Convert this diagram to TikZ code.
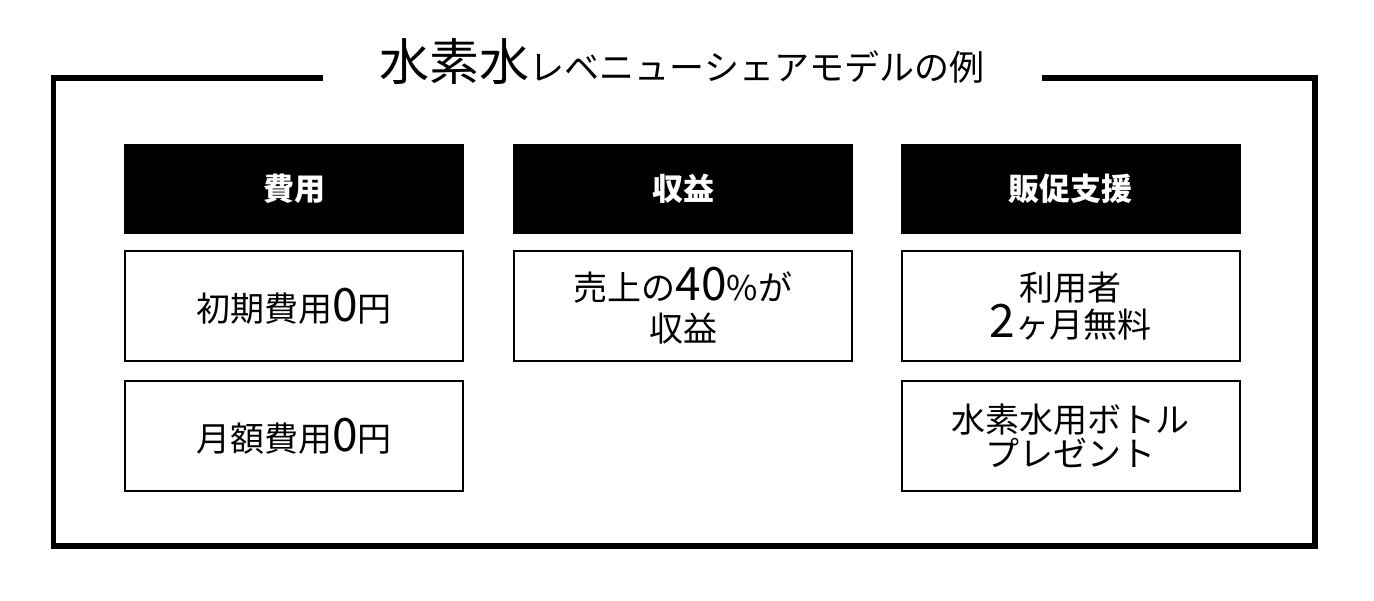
\documentclass[tikz,border=0pt]{standalone}
\usepackage{fontspec}
\setmainfont{Noto Sans CJK JP}
\newcommand\bigdig[1]{{\fontsize{46}{46}\selectfont #1}}
\begin{document}
\begin{tikzpicture}[x=1pt,y=-1pt,
  frame/.style={line width=5.5pt,line join=miter},
  head/.style={fill=black,text=white,minimum width=340pt,minimum height=90pt,inner sep=0pt,font=\fontsize{31}{36}\selectfont\bfseries},
  cell/.style={draw=black,line width=2pt,fill=white,minimum width=338pt,minimum height=110pt,inner sep=0pt,align=center,font=\fontsize{34}{34}\selectfont},
  titletext/.style={anchor=base,inner sep=0pt,font=\fontsize{35}{40}\selectfont}]
\useasboundingbox (0,0) rectangle (1374,600);
\fill[white] (0,0) rectangle (1374,600);
% outer frame with a gap for the title
\coordinate (fl) at (323,78);
\coordinate (fr) at (1042,78);
\draw[frame] (fl) -- (53.5,78) -- (53.5,546) -- (1315,546) -- (1315,78) -- (fr);
\node[titletext] (title) at (682,80) {{\fontsize{50}{52}\selectfont 水素水}レベニューシェアモデルの例};
% headers
\node[head] (h1) at (294,189) {費用};
\node[head] (h2) at (683,189) {収益};
\node[head] (h3) at (1070.5,189) {販促支援};
% cells
\node[cell] (c11) at (294,306) {初期費用\bigdig{0}円};
\node[cell] (c12) at (294,436) {月額費用\bigdig{0}円};
\node[cell] (c21) at (683,306) {売上の\bigdig{40}\%が\\[7pt]収益};
\node[cell] (c31) at (1070.5,306) {利用者\\\bigdig{2}ヶ月無料};
\node[cell] (c32) at (1070.5,436) {水素水用ボトル\\プレゼント};
\end{tikzpicture}
\end{document}
